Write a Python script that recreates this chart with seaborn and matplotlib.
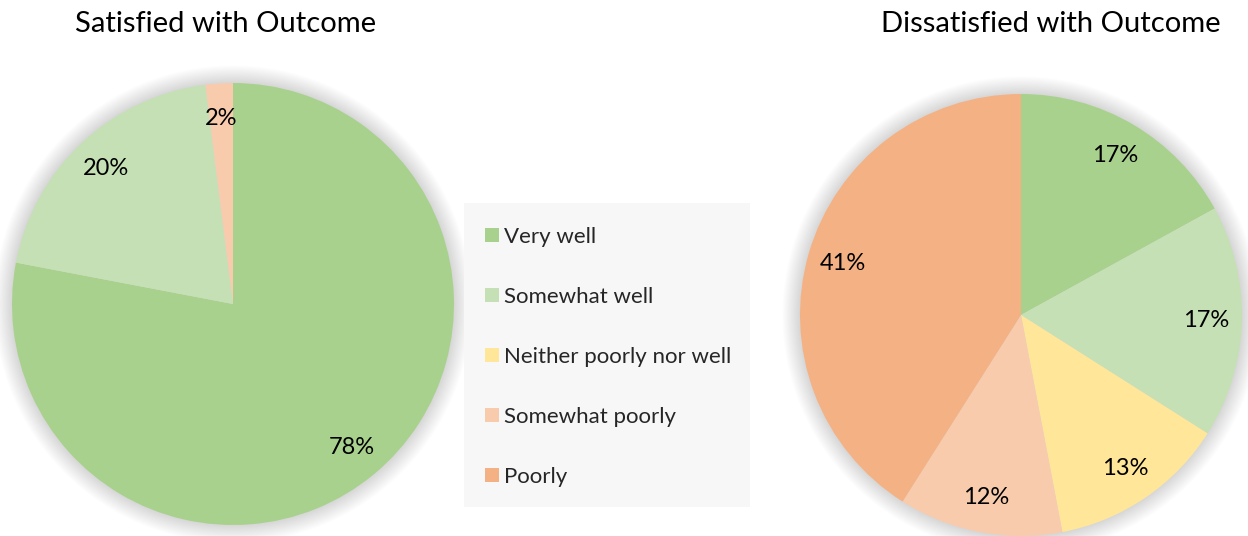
import matplotlib
matplotlib.use("Agg")
import matplotlib.pyplot as plt
from matplotlib.patches import Circle, Rectangle
import seaborn as sns

categories = ["Very well", "Somewhat well", "Neither poorly nor well", "Somewhat poorly", "Poorly"]
satisfied = [78, 20, 0, 2, 0]
dissatisfied = [17, 17, 13, 12, 41]
titles = ["Satisfied with Outcome", "Dissatisfied with Outcome"]
colors = ["#a9d18e", "#c5e0b4", "#ffe699", "#f8cbad", "#f4b183"]

sns.set_theme(style="white")
plt.rcParams["font.family"] = ["Lato", "DejaVu Sans"]

W, H = 1248, 536
fig = plt.figure(figsize=(W / 100, H / 100), dpi=100)
fig.patch.set_facecolor("white")

R = 221
LIM = 1.15


def pie_axes(cx, cy):
    side = 2 * LIM * R
    left = (cx - side / 2) / W
    bottom = (H - cy - side / 2) / H
    ax = fig.add_axes([left, bottom, side / W, side / H])
    ax.set_xlim(-LIM, LIM)
    ax.set_ylim(-LIM, LIM)
    ax.set_aspect("equal")
    ax.axis("off")
    return ax


def draw(ax, values):
    # soft shadow
    for i in range(20):
        ax.add_patch(Circle((0.0, -0.0), 1 + 0.004 * (i + 1), color="black",
                            alpha=0.006, lw=0, zorder=0))
    wedges, texts, autotexts = ax.pie(
        values, colors=colors, startangle=90, counterclock=False,
        autopct=lambda p: f"{p:.0f}%" if p > 0.5 else "", pctdistance=0.84,
        wedgeprops=dict(linewidth=0, edgecolor="none"),
        textprops=dict(fontsize=17, color="black"),
        frame=False)
    ax.set_xlim(-LIM, LIM)
    ax.set_ylim(-LIM, LIM)
    return wedges


ax1 = pie_axes(233, 304)
draw(ax1, satisfied)
ax2 = pie_axes(1021, 315)
wedges = draw(ax2, dissatisfied)

fig.text(226 / W, 1 - 24 / H, titles[0], ha="center", va="center", fontsize=21, color="black")
fig.text(1051 / W, 1 - 24 / H, titles[1], ha="center", va="center", fontsize=21, color="black")

# legend background
fig.patches.append(Rectangle((464 / W, 29 / H), 286 / W, 304 / H, transform=fig.transFigure,
                             facecolor="#f7f7f7", edgecolor="none", zorder=0))
leg = fig.legend(wedges, categories, loc="upper left", bbox_to_anchor=(476 / W, 1 - 218 / H),
                 frameon=False, fontsize=16, handlelength=0.63, handleheight=0.63,
                 handletextpad=0.25, labelspacing=1.8, borderaxespad=0, labelcolor="#262626")

fig.savefig("out.png", dpi=100)
